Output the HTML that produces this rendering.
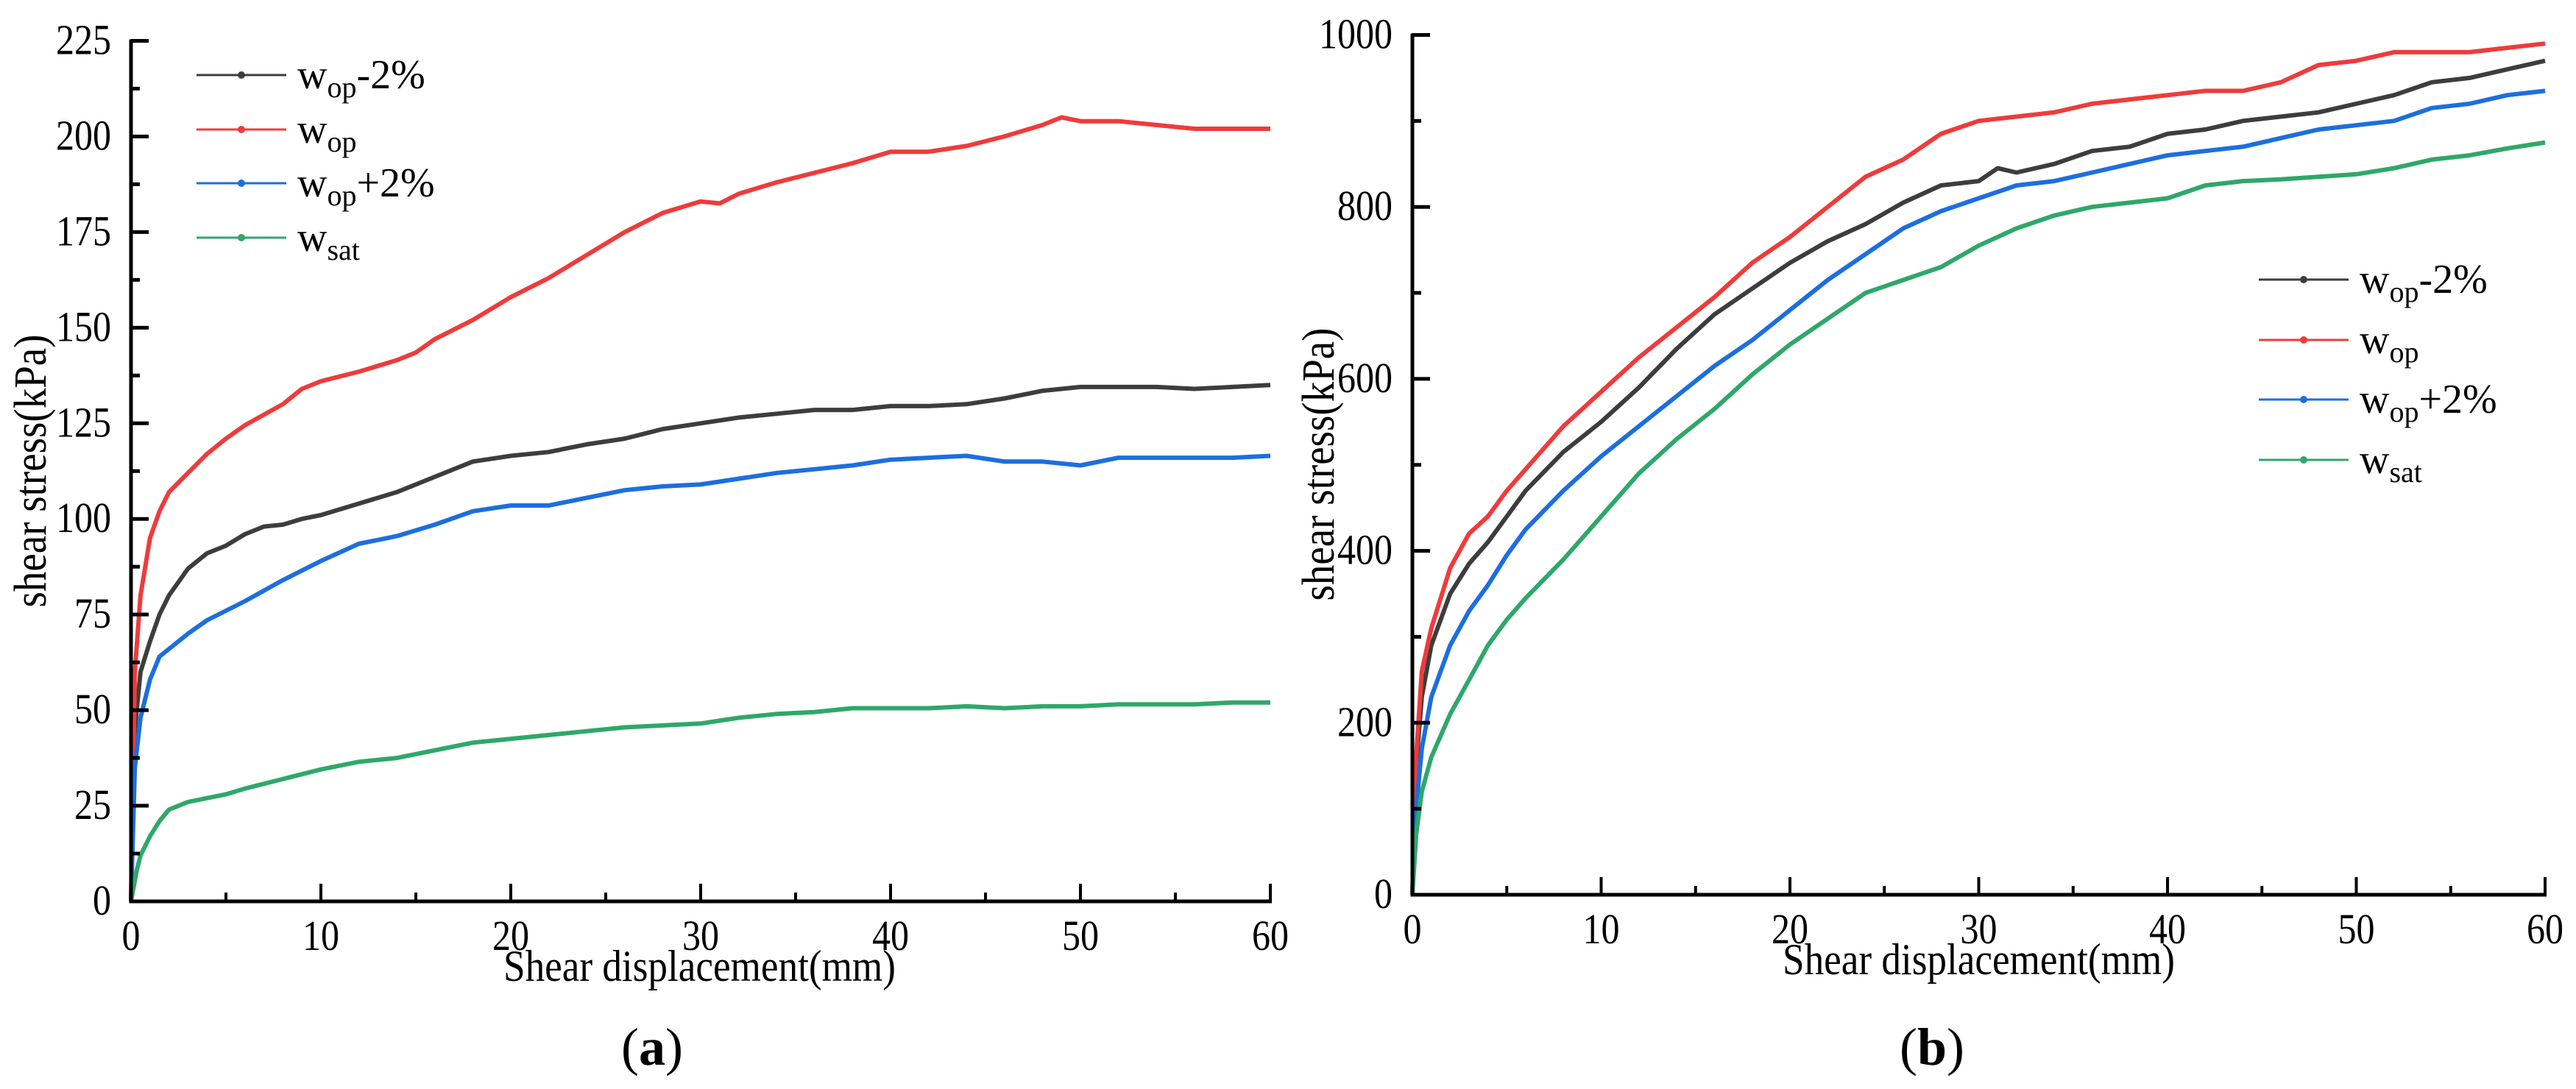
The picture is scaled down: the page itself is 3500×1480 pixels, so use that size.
<!DOCTYPE html>
<html><head><meta charset="utf-8"><style>
html,body{margin:0;padding:0;background:#fff;}
svg{display:block;}
text{font-family:"Liberation Serif","DejaVu Serif",serif;}
</style></head><body>
<svg id="fig" width="3500" height="1480" viewBox="0 0 3500 1480" xmlns="http://www.w3.org/2000/svg" font-family="Liberation Serif, serif">
<rect width="3500" height="1480" fill="#fff"/>
<g id="pa"></g>
<g id="pb"></g>
</svg>
<script>
// ---------- Panel (a) data ----------
const aX_opm2 = [0,0.2,0.5,1,1.5,2,3,4,5,6,7,8,9,10,12,14,16,18,20,22,24,26,28,30,32,34,36,38,40,42,44,46,48,50,52,54,56,58,60];
const aY_opm2 = [0,45,60,68,75,80,87,91,93,96,98,98.5,100,101,104,107,111,115,116.5,117.5,119.5,121,123.5,125,126.5,127.5,128.5,128.5,129.5,129.5,130,131.5,133.5,134.5,134.5,134.5,134,134.5,135];
const aX_op = [0,0.2,0.5,1,1.5,2,3,4,5,6,8,9,10,12,14,15,16,18,20,22,24,26,28,30,31,32,34,36,38,40,42,44,46,48,49,50,52,54,56,58,60];
const aY_op = [0,60,80,95,102,107,112,117,121,124.5,130,134,136,138.5,141.5,143.5,147,152,158,163,169,175,180,183,182.5,185,188,190.5,193,196,196,197.5,200,203,205,204,204,203,202,202,202];
const aX_opp2 = [0,0.2,0.5,1,1.5,2,3,4,5,6,8,10,12,14,16,18,20,22,24,26,28,30,32,34,36,38,40,42,44,46,48,50,52,54,56,58,60];
const aY_opp2 = [0,35,48,58,64,66,70,73.5,76,78.5,84,89,93.5,95.5,98.5,102,103.5,103.5,105.5,107.5,108.5,109,110.5,112,113,114,115.5,116,116.5,115,115,114,116,116,116,116,116.5];
const aX_sat = [0,0.3,0.5,1,1.5,2,3,4,5,6,8,10,12,14,16,18,20,22,24,26,28,30,32,34,36,38,40,42,44,46,48,50,52,54,56,58,60];
const aY_sat = [0,8,12,17,21,24,26,27,28,29.5,32,34.5,36.5,37.5,39.5,41.5,42.5,43.5,44.5,45.5,46,46.5,48,49,49.5,50.5,50.5,50.5,51,50.5,51,51,51.5,51.5,51.5,52,52];
const aYTicks = [0,25,50,75,100,125,150,175,200,225];
// ---------- Panel (b) data ----------
const bX = [0,0.2,0.5,1,2,3,4,5,6,8,10,12,14,16,18,20,22,24,26,28,30,32,34,36,38,40,42,44,46,48,50,52,54,56,58,60];
const bY_op = [0,160,260,310,380,420,440,470,495,545,585,625,660,695,735,765,800,835,855,885,900,905,910,920,925,930,935,935,945,965,970,980,980,980,985,990];
const bX_opm2 = [0,0.2,0.5,1,2,3,4,5,6,8,10,12,14,16,18,20,22,24,26,28,30,31,32,34,36,38,40,42,44,46,48,50,52,54,56,58,60];
const bY_opm2 = [0,150,230,290,350,385,410,440,470,515,550,590,635,675,705,735,760,780,805,825,830,845,840,850,865,870,885,890,900,905,910,920,930,945,950,960,970];
const bY_opp2 = [0,100,170,230,290,330,360,395,425,470,510,545,580,615,645,680,715,745,775,795,810,825,830,840,850,860,865,870,880,890,895,900,915,920,930,935];
const bY_sat = [0,70,120,160,210,250,290,320,345,390,440,490,530,565,605,640,670,700,715,730,755,775,790,800,805,810,825,830,832,835,838,845,855,860,868,875];
const bYTicks = [0,200,400,600,800,1000];
const xTicks = [0,10,20,30,40,50,60];
const seriesNames = ["wop-2%","wop","wop+2%","wsat"];
const seriesColors = ["#3d3d3d","#ef3b3b","#1c6ee0","#2ea86a"];

const NS = "http://www.w3.org/2000/svg";
const FF = "Liberation Serif, DejaVu Serif, serif";
function mk(parent, tag, attrs){ const e=document.createElementNS(NS,tag); for(const k in attrs) e.setAttribute(k,attrs[k]); if(tag==="text") e.setAttribute("font-family",FF); parent.appendChild(e); return e; }

function panel(g, cfg){
  const sx = v => cfg.x0 + (v - 0) / 60 * (cfg.x1 - cfg.x0);
  const sy = v => cfg.y0 - v / cfg.ymax * (cfg.y0 - cfg.y1);
  cfg.series.forEach((s,i)=>{
    const d = s.xs.map((x,j)=>(j?"L":"M")+sx(x).toFixed(1)+","+sy(s.ys[j]).toFixed(1)).join("");
    const p = mk(g,"path",{d:d,fill:"none",stroke:seriesColors[i],"stroke-width":6,"stroke-linejoin":"round"});
    
    
  });
  const ax = mk(g,"path",{d:`M${cfg.x0},${cfg.y1-2}V${cfg.y0}H${cfg.x1+2}`,fill:"none",stroke:"#000","stroke-width":5});
  
  
  const step = cfg.yTicks[1]-cfg.yTicks[0];
  cfg.yTicks.forEach((v,i)=>{
    mk(g,"line",{x1:cfg.x0,x2:cfg.x0+24,y1:sy(v),y2:sy(v),stroke:"#000","stroke-width":5});
    if(i<cfg.yTicks.length-1){ const m=v+step/2; mk(g,"line",{x1:cfg.x0,x2:cfg.x0+12,y1:sy(m),y2:sy(m),stroke:"#000","stroke-width":5}); }
    const s = String(v);
    const t = mk(g,"text",{x:cfg.x0-27-s.length*25,y:sy(v)+18,"font-size":58,textLength:s.length*25,lengthAdjust:"spacingAndGlyphs"});
    t.textContent = s;
    
    
  });
  xTicks.forEach((v,i)=>{
    mk(g,"line",{x1:sx(v),x2:sx(v),y1:cfg.y0,y2:cfg.y0-24,stroke:"#000","stroke-width":4});
    if(i<xTicks.length-1){ const m=v+5; mk(g,"line",{x1:sx(m),x2:sx(m),y1:cfg.y0,y2:cfg.y0-12,stroke:"#000","stroke-width":4}); }
    const s = String(v);
    const t = mk(g,"text",{x:sx(v)-s.length*12.5,y:cfg.y0+66,"font-size":58,textLength:s.length*25,lengthAdjust:"spacingAndGlyphs"});
    t.textContent = s;
    
    
  });
  const xt = mk(g,"text",{x:cfg.xtX,y:cfg.y0+108,"font-size":60,textLength:533,lengthAdjust:"spacingAndGlyphs"});
  xt.textContent = "Shear displacement(mm)";
  
  
  const yt = mk(g,"text",{transform:`translate(${cfg.ytX},${cfg.ytC}) rotate(-90)`,"text-anchor":"middle","font-size":62,textLength:371,lengthAdjust:"spacingAndGlyphs"});
  yt.textContent = "shear stress(kPa)";
  
  
  const sfx = ["-2%","","+2%",""];
  const sub = ["op","op","op","sat"];
  cfg.legY.forEach((ly,i)=>{
    const lg = mk(g,"g",{});
    
    
    mk(lg,"line",{x1:cfg.legX,x2:cfg.legX+122,y1:ly,y2:ly,stroke:seriesColors[i],"stroke-width":3});
    mk(lg,"circle",{cx:cfg.legX+61,cy:ly,r:5,fill:seriesColors[i]});
    const t = mk(lg,"text",{x:cfg.legX+137,y:ly+18,"font-size":56});
    t.appendChild(document.createTextNode("w"));
    const s1 = mk(t,"tspan",{dy:12,"font-size":40}); s1.textContent = sub[i];
    if(sfx[i]){ const s2 = mk(t,"tspan",{dy:-12,"font-size":56}); s2.textContent = sfx[i]; }
  });
  const lab = mk(g,"text",{x:cfg.labX,y:1447,"text-anchor":"middle","font-size":72});
  lab.appendChild(document.createTextNode("("));
  const b = mk(lab,"tspan",{"font-weight":"bold"}); b.textContent = cfg.lab;
  lab.appendChild(document.createTextNode(")"));
  
  
}

panel(document.getElementById("pa"),{
  x0:178,x1:1726,y0:1225,y1:55.5,ymax:225,yTicks:aYTicks,
  series:[{xs:aX_opm2,ys:aY_opm2},{xs:aX_op,ys:aY_op},{xs:aX_opp2,ys:aY_opp2},{xs:aX_sat,ys:aY_sat}],
  xtX:684,ytX:62,ytC:640,legX:267,legY:[102,176,249,323],labX:886,lab:"a"
});
panel(document.getElementById("pb"),{
  x0:1919,x1:3458,y0:1216,y1:47.5,ymax:1000,yTicks:bYTicks,
  series:[{xs:bX_opm2,ys:bY_opm2},{xs:bX,ys:bY_op},{xs:bX,ys:bY_opp2},{xs:bX,ys:bY_sat}],
  xtX:2422,ytX:1812,ytC:631,legX:3069,legY:[380,462,543,625],labX:2625,lab:"b"
});
</script>
</body></html>
